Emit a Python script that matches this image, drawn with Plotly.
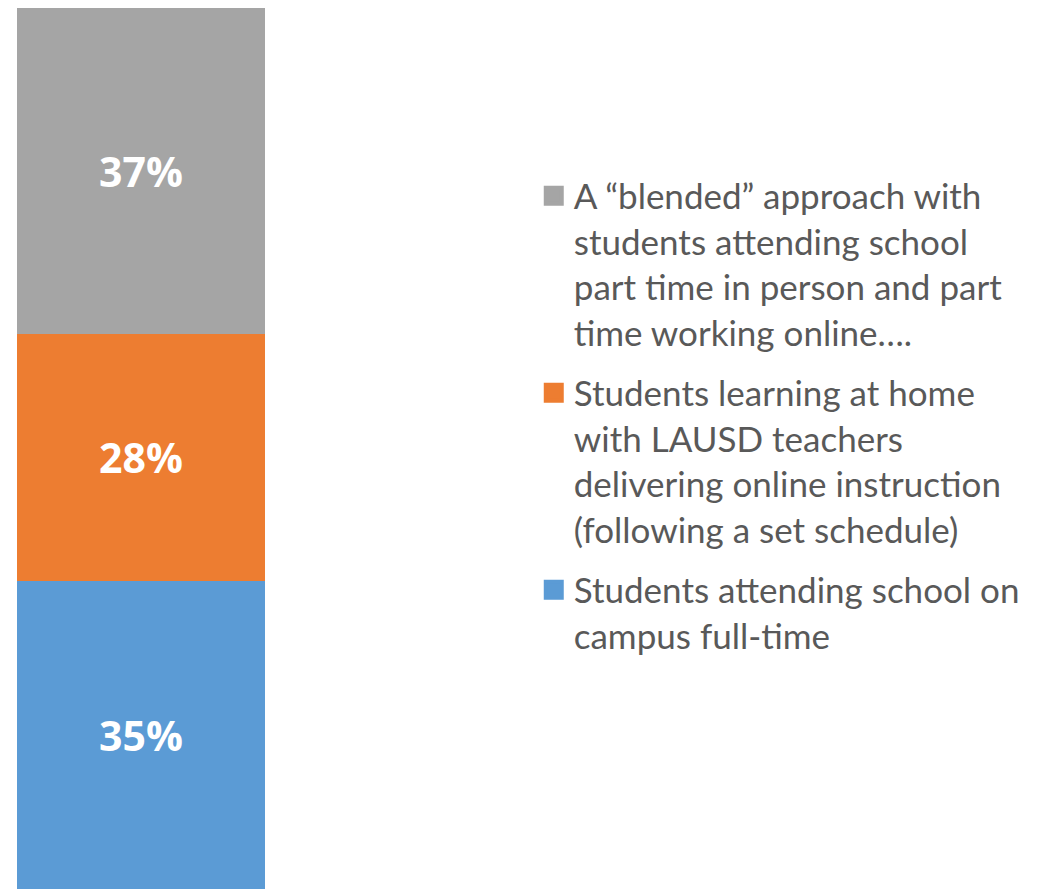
import plotly.graph_objects as go

categories = [
    "Students attending school on<br>campus full-time",
    "Students learning at home<br>with LAUSD teachers<br>delivering online instruction<br>(following a set schedule)",
    "A \u201cblended\u201d approach with<br>students attending school<br>part time in person and part<br>time working online\u2026.",
]
values = [35, 28, 37]
colors = ["#5B9BD5", "#ED7D31", "#A5A5A5"]

fig = go.Figure()
for i, (name, v, c) in enumerate(zip(categories, values, colors)):
    fig.add_trace(go.Bar(
        x=[""], y=[v], marker=dict(color=c, line=dict(width=0)),
        text=[f"{v}%"], textposition="inside", insidetextanchor="middle",
        textfont=dict(family="Open Sans", size=41, color="white", weight="bold"),
        width=1, showlegend=False, hoverinfo="skip",
    ))
    # legend proxy with square marker (top of stack listed first)
    fig.add_trace(go.Scatter(
        x=[None], y=[None], mode="markers", name=name,
        marker=dict(symbol="square", size=16, color=c, line=dict(width=4, color=c)),
        legendgroup=name, legendrank=10 - i,
    ))

# page body adds 8px margin, so positions are shifted by -8px
fig.update_layout(
    width=1037, height=889,
    barmode="stack",
    margin=dict(l=0, r=0, t=0, b=8),
    plot_bgcolor="white", paper_bgcolor="white",
    xaxis=dict(domain=[9 / 1037, 257 / 1037], range=[-0.5, 0.5], visible=False),
    yaxis=dict(range=[0, 100], visible=False),
    legend=dict(
        x=0.507, y=0.82, xanchor="left", yanchor="top", valign="top",
        traceorder="grouped", tracegroupgap=12,
        font=dict(family="Lato", size=35, color="#595959"),
        bgcolor="rgba(0,0,0,0)",
    ),
    font=dict(family="Lato", color="#595959"),
)

fig.write_html("out.html")
